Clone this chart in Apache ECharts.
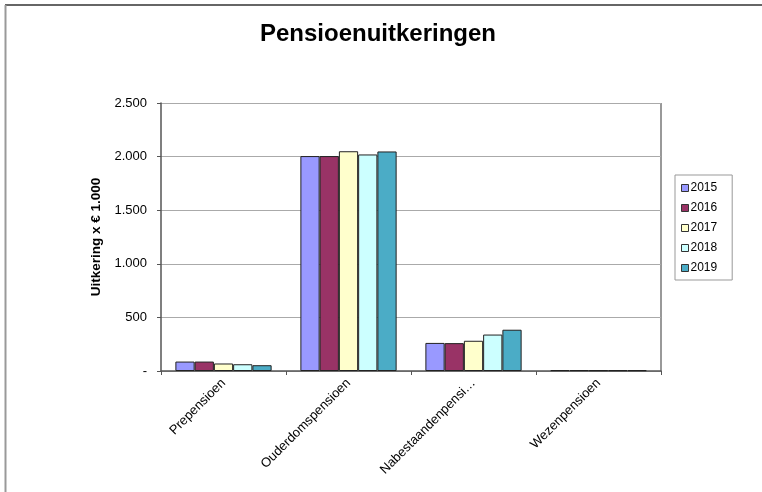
<!DOCTYPE html>
<html>
<head>
<meta charset="utf-8">
<script src="https://cdn.jsdelivr.net/npm/echarts@6/dist/echarts.min.js"></script>
<style>html,body{margin:0;padding:0;background:#fff}#c{width:762px;height:492px}</style>
</head>
<body>
<div id="c"></div>
<script>
const categories = ['Prepensioen', 'Ouderdomspensioen', 'Nabestaandenpensi…', 'Wezenpensioen'];
const years = ['2015', '2016', '2017', '2018', '2019'];
const v2015 = [88, 2005, 262, 8];
const v2016 = [88, 2005, 260, 8];
const v2017 = [70, 2050, 282, 7];
const v2018 = [63, 2020, 340, 7];
const v2019 = [54, 2048, 385, 7];
const yTicks = [0, 500, 1000, 1500, 2000, 2500];
const colors = ['#9999FF', '#993366', '#FFFFCC', '#CCFFFF', '#4BACC6'];
const values = [v2015, v2016, v2017, v2018, v2019];

const chart = echarts.init(document.getElementById('c'));
const font = 'Liberation Sans, Arial, sans-serif';
chart.setOption({
  animation: false,
  title: {
    text: 'Pensioenuitkeringen', left: 373, top: 17, textAlign: 'center',
    textStyle: { fontFamily: font, fontSize: 24, fontWeight: 'bold', color: '#000' }
  },
  graphic: [
    { type: 'line', shape: { x1: 5, y1: 5, x2: 762, y2: 5 }, style: { stroke: '#666', lineWidth: 2 } },
    { type: 'line', shape: { x1: 5.5, y1: 5, x2: 5.5, y2: 492 }, style: { stroke: '#999', lineWidth: 2 } },
    { type: 'line', shape: { x1: 661, y1: 103, x2: 661, y2: 371 }, style: { stroke: '#777', lineWidth: 1.5 } }
  ],
  legend: {
    orient: 'vertical', left: 675, top: 175,
    data: years, icon: 'rect',
    itemWidth: 7, itemHeight: 7, itemGap: 8,
    borderColor: '#999', borderWidth: 1, padding: [7, 15, 6, 6],
    textStyle: { fontFamily: font, fontSize: 12, color: '#000', padding: [0, 0, 0, -3] },
    itemStyle: { borderColor: '#333', borderWidth: 1 }
  },
  grid: { left: 161, right: 101, top: 103, bottom: 121 },
  xAxis: {
    type: 'category', data: categories,
    axisLine: { lineStyle: { color: '#555', width: 1.5 } },
    axisTick: { show: true, length: 4, lineStyle: { color: '#555' } },
    axisLabel: { rotate: 45, fontFamily: font, fontSize: 13, color: '#000', margin: 10, interval: 0 }
  },
  yAxis: {
    type: 'value', min: 0, max: 2500, interval: 500,
    name: 'Uitkering x € 1.000', nameLocation: 'middle', nameGap: 58, nameRotate: 90,
    nameTextStyle: { fontFamily: font, fontSize: 13.5, fontWeight: 'bold', color: '#000' },
    axisLine: { show: true, lineStyle: { color: '#555', width: 1.5 } },
    axisTick: { show: true, length: 4, lineStyle: { color: '#555' } },
    splitLine: { lineStyle: { color: '#aaa', width: 1 } },
    axisLabel: {
      fontFamily: font, fontSize: 13, color: '#000', margin: 14,
      formatter: v => yTicks.includes(v) ? (v === 0 ? '-' : v.toLocaleString('de-DE')) : ''
    }
  },
  series: years.map((y, i) => ({
    name: y, type: 'bar', data: values[i],
    barGap: '0%', barCategoryGap: '23%',
    itemStyle: { color: colors[i], borderColor: '#222', borderWidth: 1 }
  }))
});
</script>
</body>
</html>
